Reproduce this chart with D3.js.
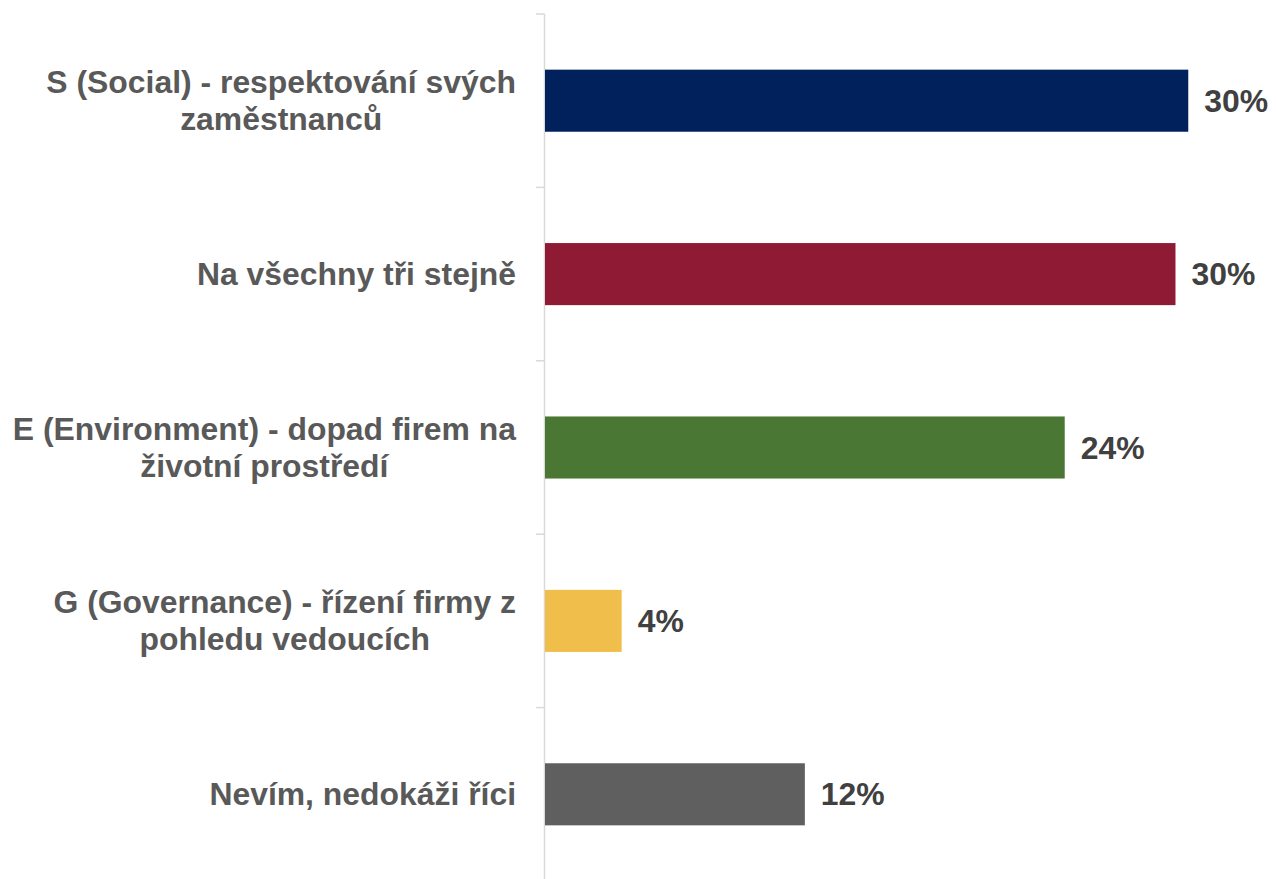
<!DOCTYPE html>
<html lang="cs">
<head>
<meta charset="utf-8">
<script src="https://cdn.jsdelivr.net/npm/d3@7"></script>
<style>
  html, body { margin: 0; padding: 0; background: #ffffff; }
  svg { display: block; }
  text { font-family: "Liberation Sans", Arial, "DejaVu Sans", sans-serif; font-weight: bold; }
</style>
</head>
<body>
<svg id="chart" width="1276" height="879"></svg>
<script>
// Categories (each entry is the list of lines of its label)
const categories = [
  ["S (Social) - respektování svých", "zaměstnanců"],
  ["Na všechny tři stejně"],
  ["E (Environment) - dopad firem na", "životní prostředí"],
  ["G (Governance) - řízení firmy z", "pohledu vedoucích"],
  ["Nevím, nedokáži říci"]
];
// Share of respondents per category
const values = [0.302, 0.296, 0.244, 0.036, 0.122];
const barColors = ["#00215C", "#8E1A33", "#4A7733", "#F0BE4B", "#5F5F5F"];

const keys = categories.map(c => c.join(" "));
const rows = keys.map((k, i) => ({ key: k, lines: categories[i], value: values[i], color: barColors[i] }));

const svg = d3.select("#chart");
const axisX = 545;

const x = d3.scaleLinear().domain([0, 0.30]).range([axisX, axisX + 639]);
const y = d3.scaleBand().domain(keys).range([14, 881])
  .paddingInner(0.642).paddingOuter(0.321);

const fmt = d3.format(".0%");
const fontSize = 31.9;
const lineGap = 37;
const capShift = 11;

// Axis line and ticks at category boundaries
const step = y.step();
const half = y.paddingInner() * step / 2;
const bounds = keys.map(k => y(k) - half).concat([y(keys[keys.length - 1]) + y.bandwidth() + half]);
const axisG = svg.append("g").attr("stroke", "#D9D9D9").attr("stroke-width", 1.5);
axisG.append("line")
  .attr("x1", axisX - 0.5).attr("x2", axisX - 0.5)
  .attr("y1", bounds[0]).attr("y2", bounds[bounds.length - 1]);
axisG.selectAll("line.tick").data(bounds).join("line")
  .attr("class", "tick")
  .attr("x1", axisX - 9).attr("x2", axisX - 0.5)
  .attr("y1", d => d).attr("y2", d => d);

// Bars
svg.append("g").selectAll("rect").data(rows).join("rect")
  .attr("x", x(0))
  .attr("y", d => y(d.key))
  .attr("width", d => x(d.value) - x(0))
  .attr("height", y.bandwidth())
  .attr("fill", d => d.color);

// Value labels
svg.append("g").selectAll("text").data(rows).join("text")
  .attr("x", d => x(d.value) + 16)
  .attr("y", d => y(d.key) + y.bandwidth() / 2 + capShift)
  .attr("fill", "#404040")
  .attr("font-size", fontSize)
  .text(d => fmt(d.value));

// Category labels: lines centred within a block right-aligned to the axis
const labelRight = 516;
const labelG = svg.append("g");
rows.forEach(d => {
  const cy = y(d.key) + y.bandwidth() / 2;
  const n = d.lines.length;
  const texts = d.lines.map((line, j) => labelG.append("text")
    .attr("fill", "#595959")
    .attr("font-size", fontSize)
    .attr("text-anchor", "middle")
    .attr("y", cy + (j - (n - 1) / 2) * lineGap + capShift)
    .text(line));
  const w = d3.max(texts, t => t.node().getComputedTextLength());
  texts.forEach(t => t.attr("x", labelRight - w / 2));
});
</script>
</body>
</html>
